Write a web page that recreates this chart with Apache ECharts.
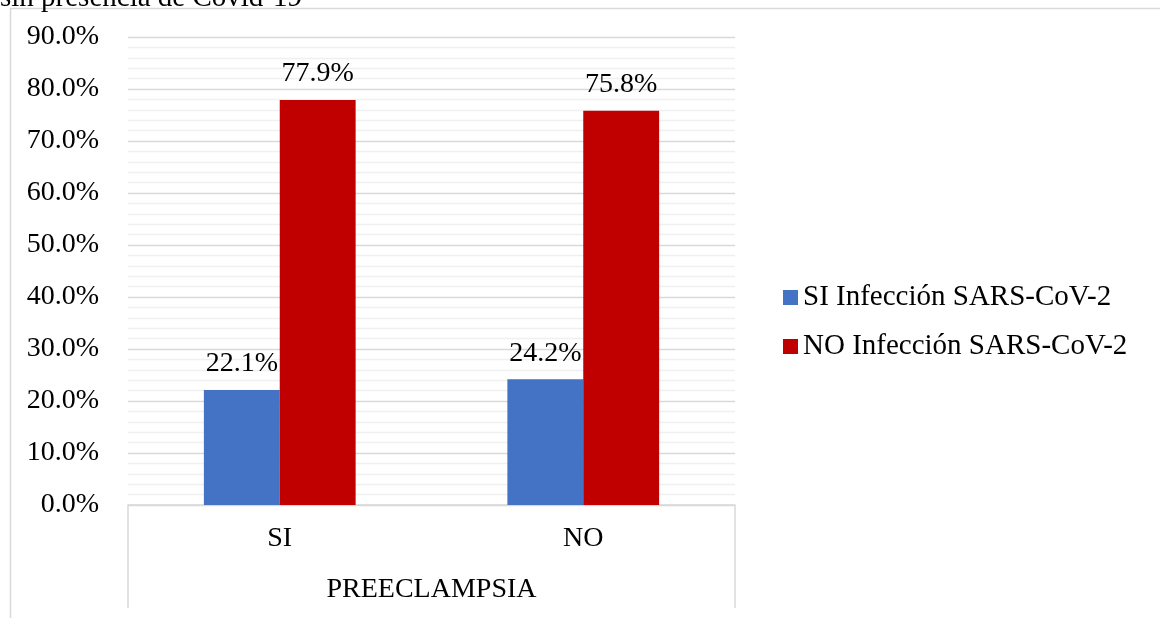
<!DOCTYPE html>
<html>
<head>
<meta charset="utf-8">
<script src="https://cdn.jsdelivr.net/npm/echarts@6/dist/echarts.min.js"></script>
<style>
  html, body { margin: 0; padding: 0; background: #fff; }
  #chart { width: 1160px; height: 618px; }
</style>
</head>
<body>
<div id="chart"></div>
<script>
const categories = ['SI', 'NO'];
const groupLabel = ['PREECLAMPSIA'];
const siInfeccion = [22.1, 24.2];
const noInfeccion = [77.9, 75.8];
const seriesNames = ['SI Infección SARS-CoV-2', 'NO Infección SARS-CoV-2'];
const titleText = 'sin presencia de Covid-19';

const serif = '"Liberation Serif", "Times New Roman", serif';
const chart = echarts.init(document.getElementById('chart'));

const labelStyle = {
    show: true,
    position: 'top',
    distance: 12,
    fontFamily: serif,
    fontSize: 28,
    color: '#000',
    formatter: p => p.value.toFixed(1) + '%'
};

chart.setOption({
    animation: false,
    title: {
        text: titleText,
        left: 0,
        top: -16,
        padding: 0,
        textStyle: { fontFamily: serif, fontSize: 29, fontWeight: 'normal', color: '#000' }
    },
    graphic: [{
        type: 'rect',
        shape: { x: 10.5, y: 8.5, width: 1300, height: 800 },
        style: { fill: 'none', stroke: '#d9d9d9', lineWidth: 1.5 },
        silent: true
    }],
    legend: {
        orient: 'vertical',
        left: 778,
        top: 278,
        itemWidth: 15,
        itemHeight: 15,
        itemGap: 20,
        icon: 'rect',
        textStyle: { fontFamily: serif, fontSize: 29, color: '#000' },
        data: seriesNames
    },
    grid: { left: 128, right: 425, top: 37, bottom: 113 },
    xAxis: [{
        type: 'category',
        data: categories,
        axisLine: { lineStyle: { color: '#d9d9d9', width: 1.5 } },
        axisTick: { show: false },
        axisLabel: { margin: 20, fontFamily: serif, fontSize: 28, color: '#000' }
    }, {
        type: 'category',
        position: 'bottom',
        data: groupLabel,
        axisLine: { show: false },
        axisTick: { show: true, length: 103, lineStyle: { color: '#d9d9d9', width: 1.5 } },
        axisLabel: { margin: 71, fontFamily: serif, fontSize: 28, color: '#000' }
    }],
    yAxis: {
        type: 'value',
        min: 0,
        max: 90,
        interval: 10,
        axisLine: { show: false },
        axisTick: { show: false },
        axisLabel: {
            margin: 29,
            fontFamily: serif,
            fontSize: 28,
            color: '#000',
            formatter: v => v.toFixed(1) + '%'
        },
        splitLine: { lineStyle: { color: '#d9d9d9', width: 1.3 } },
        minorTick: { show: false, splitNumber: 5 },
        minorSplitLine: { show: true, lineStyle: { color: '#f0f0f0', width: 1.3 } }
    },
    series: [{
        name: seriesNames[0],
        type: 'bar',
        data: siInfeccion,
        barGap: '0%',
        barCategoryGap: '50%',
        itemStyle: { color: '#4472c4' },
        label: labelStyle
    }, {
        name: seriesNames[1],
        type: 'bar',
        data: noInfeccion,
        barGap: '0%',
        barCategoryGap: '50%',
        itemStyle: { color: '#c00000' },
        label: labelStyle
    }]
});
</script>
</body>
</html>
